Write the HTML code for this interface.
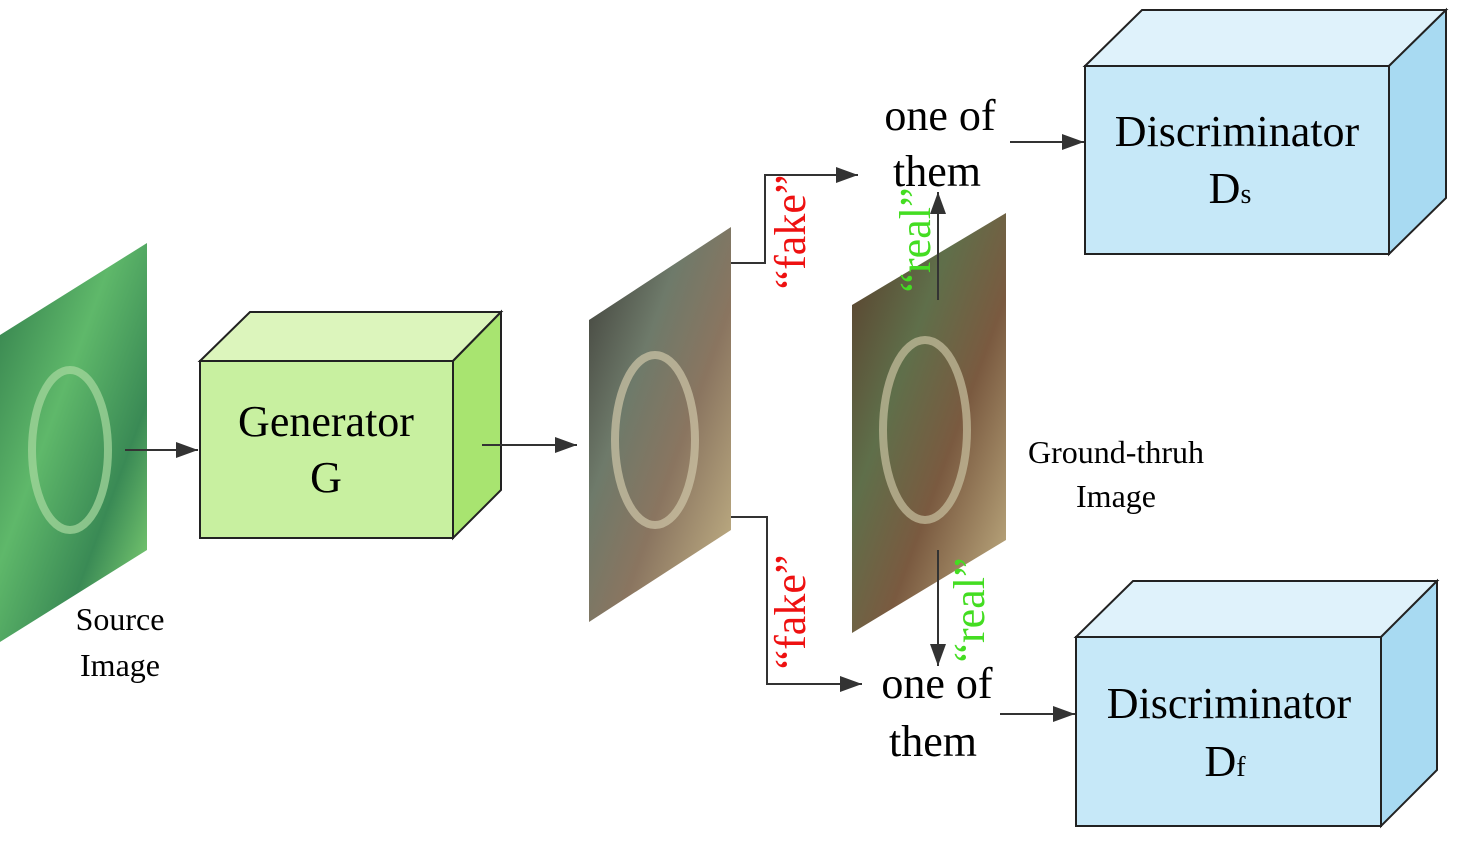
<!DOCTYPE html>
<html><head><style>
html,body{margin:0;padding:0;background:#fff;}
svg{display:block;font-family:"Liberation Serif",serif;}
</style></head><body>
<svg width="1468" height="856" viewBox="0 0 1468 856" xmlns="http://www.w3.org/2000/svg">
<defs>
<marker id="ah" markerWidth="22" markerHeight="16" refX="22" refY="8" orient="auto" markerUnits="userSpaceOnUse" viewBox="0 0 22 16">
<path d="M0,0 L22,8 L0,16 z" fill="#333"/></marker>
<linearGradient id="src" x1="0" y1="0" x2="1" y2="1">
<stop offset="0" stop-color="#2f7a4a"/><stop offset="0.4" stop-color="#5fb86a"/><stop offset="0.7" stop-color="#3a8a55"/><stop offset="1" stop-color="#8fe07a"/></linearGradient>
<linearGradient id="mid" x1="0" y1="0" x2="1" y2="1">
<stop offset="0" stop-color="#3b3a35"/><stop offset="0.35" stop-color="#6e7a6a"/><stop offset="0.6" stop-color="#8a7560"/><stop offset="1" stop-color="#c9b98a"/></linearGradient>
<linearGradient id="gt" x1="0" y1="0" x2="1" y2="1">
<stop offset="0" stop-color="#5a3b2a"/><stop offset="0.35" stop-color="#5f6f4a"/><stop offset="0.6" stop-color="#7a5a40"/><stop offset="1" stop-color="#c8b88a"/></linearGradient>
</defs>

<polygon points="0,335 147,243 147,550 0,642" fill="url(#src)"/>
<ellipse cx="70" cy="450" rx="38" ry="80" fill="none" stroke="#a8d8a0" stroke-width="8" opacity="0.7"/>
<text x="120" y="630" font-size="32" text-anchor="middle">Source</text>
<text x="120" y="676" font-size="32" text-anchor="middle">Image</text>

<line x1="125" y1="450" x2="198" y2="450" stroke="#333" stroke-width="2" marker-end="url(#ah)"/>

<polygon points="200,361 250,312 501,312 453,361" fill="#dcf5bc" stroke="#222" stroke-width="2"/>
<polygon points="453,361 501,312 501,490 453,538" fill="#a8e470" stroke="#222" stroke-width="2"/>
<rect x="200" y="361" width="253" height="177" fill="#c8f0a0" stroke="#222" stroke-width="2"/>
<text x="326" y="436" font-size="44" text-anchor="middle">Generator</text>
<text x="326" y="492" font-size="44" text-anchor="middle">G</text>

<line x1="482" y1="445" x2="577" y2="445" stroke="#333" stroke-width="2" marker-end="url(#ah)"/>

<polygon points="589,320 731,227 731,530 589,622" fill="url(#mid)"/>
<ellipse cx="655" cy="440" rx="40" ry="85" fill="none" stroke="#cfc6a8" stroke-width="8" opacity="0.7"/>

<polyline points="731,263 765,263 765,175 858,175" fill="none" stroke="#333" stroke-width="2" marker-end="url(#ah)"/>
<polyline points="731,517 767,517 767,684 862,684" fill="none" stroke="#333" stroke-width="2" marker-end="url(#ah)"/>

<text transform="translate(805,232) rotate(-90)" font-size="44" fill="#ee1111" text-anchor="middle">“fake”</text>
<text transform="translate(805,612) rotate(-90)" font-size="44" fill="#ee1111" text-anchor="middle">“fake”</text>

<polygon points="852,305 1006,213 1006,540 852,633" fill="url(#gt)"/>
<ellipse cx="925" cy="430" rx="42" ry="90" fill="none" stroke="#c8c0a0" stroke-width="8" opacity="0.7"/>
<text x="1116" y="463" font-size="32" text-anchor="middle">Ground-thruh</text>
<text x="1116" y="507" font-size="32" text-anchor="middle">Image</text>

<line x1="938" y1="300" x2="938" y2="192" stroke="#333" stroke-width="2" marker-end="url(#ah)"/>
<line x1="938" y1="550" x2="938" y2="666" stroke="#333" stroke-width="2" marker-end="url(#ah)"/>

<text transform="translate(930,240) rotate(-90)" font-size="44" fill="#44dd22" text-anchor="middle">“real”</text>
<text transform="translate(984,610) rotate(-90)" font-size="44" fill="#44dd22" text-anchor="middle">“real”</text>

<text x="940" y="130" font-size="44" text-anchor="middle">one of</text>
<text x="937" y="186" font-size="44" text-anchor="middle">them</text>
<text x="937" y="698" font-size="44" text-anchor="middle">one of</text>
<text x="933" y="756" font-size="44" text-anchor="middle">them</text>

<line x1="1010" y1="142" x2="1084" y2="142" stroke="#333" stroke-width="2" marker-end="url(#ah)"/>
<line x1="1000" y1="714" x2="1075" y2="714" stroke="#333" stroke-width="2" marker-end="url(#ah)"/>

<polygon points="1085,66 1142,10 1446,10 1389,66" fill="#dff2fb" stroke="#222" stroke-width="2"/>
<polygon points="1389,66 1446,10 1446,198 1389,254" fill="#a8daf2" stroke="#222" stroke-width="2"/>
<rect x="1085" y="66" width="304" height="188" fill="#c6e8f8" stroke="#222" stroke-width="2"/>
<text x="1237" y="146" font-size="44" text-anchor="middle">Discriminator</text>
<text x="1230" y="203" font-size="44" text-anchor="middle">D<tspan font-size="28">s</tspan></text>

<polygon points="1076,637 1133,581 1437,581 1381,637" fill="#dff2fb" stroke="#222" stroke-width="2"/>
<polygon points="1381,637 1437,581 1437,770 1381,826" fill="#a8daf2" stroke="#222" stroke-width="2"/>
<rect x="1076" y="637" width="305" height="189" fill="#c6e8f8" stroke="#222" stroke-width="2"/>
<text x="1229" y="718" font-size="44" text-anchor="middle">Discriminator</text>
<text x="1225" y="776" font-size="44" text-anchor="middle">D<tspan font-size="28">f</tspan></text>
</svg>
</body></html>
